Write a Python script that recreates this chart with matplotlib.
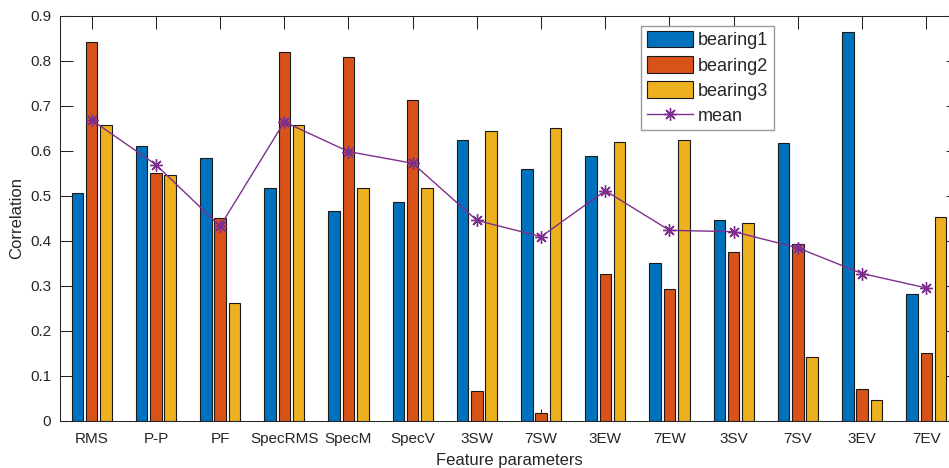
# LIBRARIES IMPORT

import numpy as np
import matplotlib.pyplot as plt

# DATA

features = ['RMS', 'P-P', 'PF', 'SpecRMS', 'SpecM', 'SpecV', '3SW', '7SW',
            '3EW', '7EW', '3SV', '7SV', '3EV', '7EV']
bearing1 = [0.507, 0.610, 0.583, 0.516, 0.466, 0.486, 0.623, 0.559,
            0.588, 0.350, 0.446, 0.616, 0.863, 0.281]
bearing2 = [0.842, 0.550, 0.450, 0.819, 0.809, 0.713, 0.067, 0.018,
            0.327, 0.293, 0.375, 0.393, 0.070, 0.151]
bearing3 = [0.658, 0.547, 0.262, 0.658, 0.518, 0.517, 0.644, 0.650,
            0.619, 0.624, 0.439, 0.142, 0.046, 0.452]
mean_corr = [0.668, 0.569, 0.432, 0.664, 0.598, 0.572, 0.445, 0.409,
             0.511, 0.423, 0.420, 0.384, 0.327, 0.295]

# PLOTTING

plt.rcParams['font.family'] = ['Liberation Sans', 'DejaVu Sans']
text_col = '#262626'

fig = plt.figure(figsize=(9.49, 4.68), dpi=100)
# axes run a little past the right border of the figure
ax = fig.add_axes([0.0628, 0.1011, 0.9471, 0.8654])

x = np.arange(1, len(features) + 1)
offset = 0.222
width = 0.18
series = [bearing1, bearing2, bearing3]
colors = ['#0072BD', '#D95319', '#EDB120']
names = ['bearing1', 'bearing2', 'bearing3']
handles = []
for k in range(3):
    h = ax.bar(x + (k - 1) * offset, series[k], width, color=colors[k],
               edgecolor='#1a1a1a', linewidth=0.8, label=names[k], zorder=2)
    handles.append(h)

# asterisk marker: 8 spokes like a '+' over an 'x'
line, = ax.plot(x, mean_corr, color='#7E2F8E', linewidth=1.0,
                marker=(8, 2, 0), markersize=9, markeredgewidth=1.0,
                label='mean', zorder=3)
handles.append(line)

ax.set_xlim(0.5, len(features) + 0.5)
ax.set_ylim(0, 0.9)
ax.set_xticks(x)
ax.set_xticklabels(features)
ax.set_yticks(np.arange(0, 0.91, 0.1))
ax.set_yticklabels(['0'] + ['%.1f' % v for v in np.arange(0.1, 0.91, 0.1)])

ax.tick_params(direction='in', length=9, width=0.75, top=True, right=True,
               labelsize=11, colors=text_col)
ax.tick_params(axis='x', pad=8)
ax.tick_params(axis='y', pad=6)
for side in ax.spines.values():
    side.set_color(text_col)
    side.set_linewidth(0.75)

ax.set_xlabel('Feature parameters', fontsize=12, color=text_col, labelpad=5)
ax.set_ylabel('Correlation', fontsize=12, color=text_col, labelpad=4)

leg = ax.legend(handles=handles, loc='upper left',
                bbox_to_anchor=(0.647, 0.975), borderaxespad=0, fontsize=13,
                handlelength=2.6, handleheight=1.0, labelspacing=0.38,
                handletextpad=0.25, borderpad=0.3, fancybox=False,
                framealpha=1)
leg.get_frame().set_edgecolor('#999999')
leg.get_frame().set_linewidth(1.0)
for t in leg.get_texts():
    t.set_color(text_col)

fig.savefig('out.png', dpi=100)
